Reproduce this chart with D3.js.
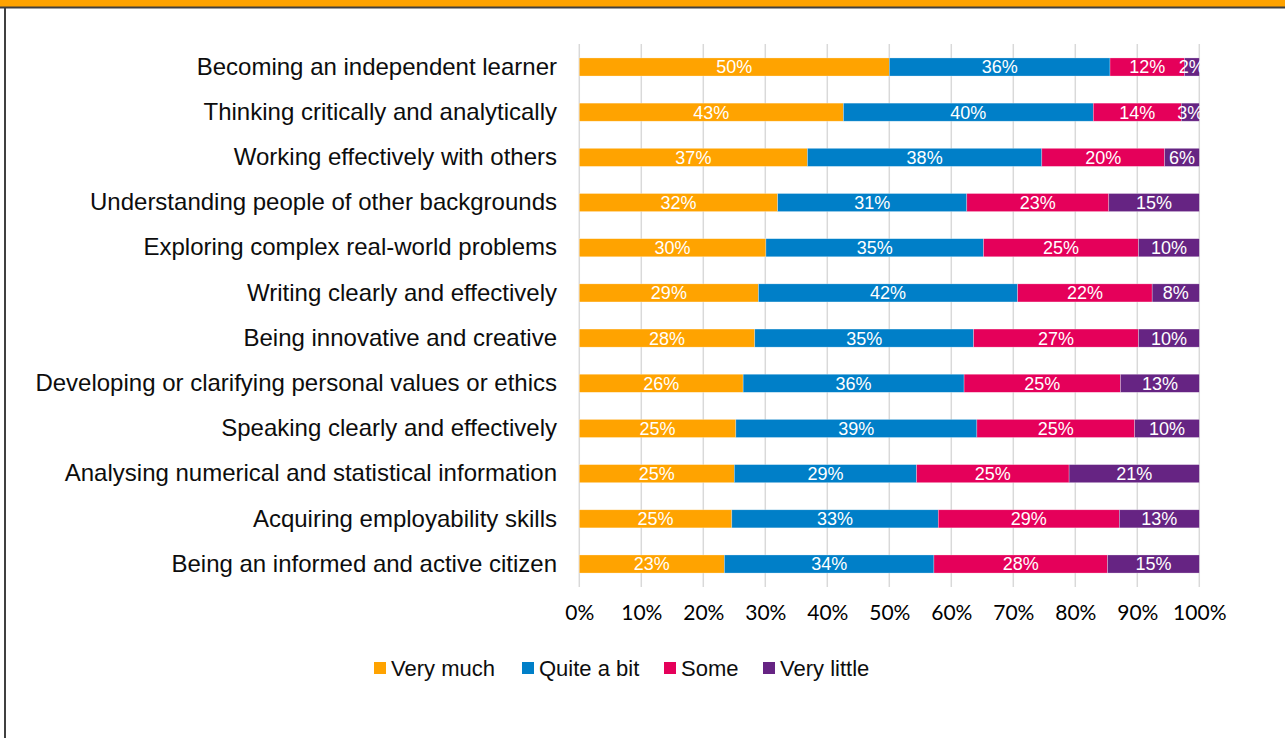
<!DOCTYPE html>
<html>
<head>
<meta charset="utf-8">
<script src="https://cdn.jsdelivr.net/npm/d3@7"></script>
<style>
  html, body { margin: 0; padding: 0; background: #fff; }
  svg { display: block; }
</style>
</head>
<body>
<svg id="chart" width="1285" height="738"></svg>
<script>
// Survey items, top to bottom
const categories = [
  "Becoming an independent learner",
  "Thinking critically and analytically",
  "Working effectively with others",
  "Understanding people of other backgrounds",
  "Exploring complex real-world problems",
  "Writing clearly and effectively",
  "Being innovative and creative",
  "Developing or clarifying personal values or ethics",
  "Speaking clearly and effectively",
  "Analysing numerical and statistical information",
  "Acquiring employability skills",
  "Being an informed and active citizen"
];

const seriesNames = ["Very much", "Quite a bit", "Some", "Very little"];

// Percentage of respondents per response level (one value per category)
const veryMuch   = [50.0, 42.6, 36.8, 32.0, 30.1, 28.9, 28.3, 26.4, 25.2, 25.0, 24.6, 23.4];
const quiteABit  = [35.6, 40.3, 37.8, 30.5, 35.1, 41.8, 35.3, 35.6, 38.8, 29.4, 33.3, 33.8];
const some       = [12.0, 14.2, 19.8, 22.9, 25.0, 21.7, 26.6, 25.2, 25.4, 24.6, 29.2, 28.0];
const veryLittle = [ 2.4,  2.9,  5.6, 14.6,  9.8,  7.6,  9.8, 12.7, 10.4, 21.0, 12.9, 14.8];

const tickValues = [0, 10, 20, 30, 40, 50, 60, 70, 80, 90, 100];

const colors = ["#FFA300", "#007FC8", "#E5005A", "#662483"];

const rows = categories.map((c, i) => ({
  category: c,
  "Very much": veryMuch[i],
  "Quite a bit": quiteABit[i],
  "Some": some[i],
  "Very little": veryLittle[i]
}));

const svg = d3.select("#chart");
const W = 1285, H = 738;

// Frame: orange band across the top, dark rule beneath, dark left edge
svg.append("rect").attr("x", 0).attr("y", 0).attr("width", W).attr("height", 7).attr("fill", "#FFA300");
svg.append("line").attr("x1", 0).attr("x2", W).attr("y1", 7.5).attr("y2", 7.5)
  .attr("stroke", "#404040").attr("stroke-width", 2);
svg.append("line").attr("x1", 5).attr("x2", 5).attr("y1", 7).attr("y2", H)
  .attr("stroke", "#404040").attr("stroke-width", 2);

const x = d3.scaleLinear().domain([0, 100]).range([579.3, 1199.3]);
const y = d3.scaleBand().domain(categories).range([44.4, 586.6]).paddingInner(0.6).paddingOuter(0.3);

// Vertical gridlines
svg.append("g").selectAll("line").data(tickValues).join("line")
  .attr("x1", d => x(d)).attr("x2", d => x(d))
  .attr("y1", 44).attr("y2", 587)
  .attr("stroke", "#D9D9D9").attr("stroke-width", 1.5);

// 100% stack: each row normalised to its total
const stack = d3.stack().keys(seriesNames).offset(d3.stackOffsetExpand);
const layers = stack(rows);

const g = svg.append("g");
layers.forEach((layer, li) => {
  const lg = g.append("g");
  lg.selectAll("rect").data(layer).join("rect")
    .attr("x", d => x(d[0] * 100))
    .attr("width", d => x(d[1] * 100) - x(d[0] * 100))
    .attr("y", d => y(d.data.category))
    .attr("height", y.bandwidth())
    .attr("fill", colors[li])
    .attr("stroke", "#ffffff").attr("stroke-opacity", 0.45).attr("stroke-width", 0.6);
  lg.selectAll("text").data(layer).join("text")
    .attr("x", d => (x(d[0] * 100) + x(d[1] * 100)) / 2)
    .attr("y", d => y(d.data.category) + y.bandwidth() / 2)
    .attr("dy", "0.36em")
    .attr("text-anchor", "middle")
    .attr("font-family", "'Liberation Sans', Arial, sans-serif")
    .attr("font-size", 18)
    .attr("fill", "#ffffff")
    .text(d => Math.round(d.data[layer.key]) + "%");
});

// Category labels
const yAxis = d3.axisLeft(y).tickSize(0).tickPadding(0);
const yg = svg.append("g").attr("transform", "translate(557,0)").call(yAxis);
yg.select(".domain").remove();
yg.selectAll("text")
  .attr("font-family", "'Liberation Sans', Arial, sans-serif")
  .attr("font-size", 24)
  .attr("fill", "#0D0D0D");

// Percentage axis labels
const xAxis = d3.axisBottom(x).tickValues(tickValues).tickSize(0).tickPadding(0).tickFormat(d => d + "%");
const xg = svg.append("g").attr("transform", "translate(0,605)").call(xAxis);
xg.select(".domain").remove();
xg.selectAll("text")
  .attr("font-family", "Lato, 'Open Sans', sans-serif")
  .attr("font-size", 21)
  .attr("fill", "#000000");

// Legend
const legendX = [374, 522, 664, 763];
const lgd = svg.append("g");
seriesNames.forEach((name, i) => {
  lgd.append("rect").attr("x", legendX[i]).attr("y", 662).attr("width", 12).attr("height", 12).attr("fill", colors[i]);
  lgd.append("text").attr("x", legendX[i] + 17).attr("y", 668).attr("dy", "0.36em")
    .attr("font-family", "'Liberation Sans', Arial, sans-serif")
    .attr("font-size", 22).attr("fill", "#0D0D0D").text(name);
});
</script>
</body>
</html>
